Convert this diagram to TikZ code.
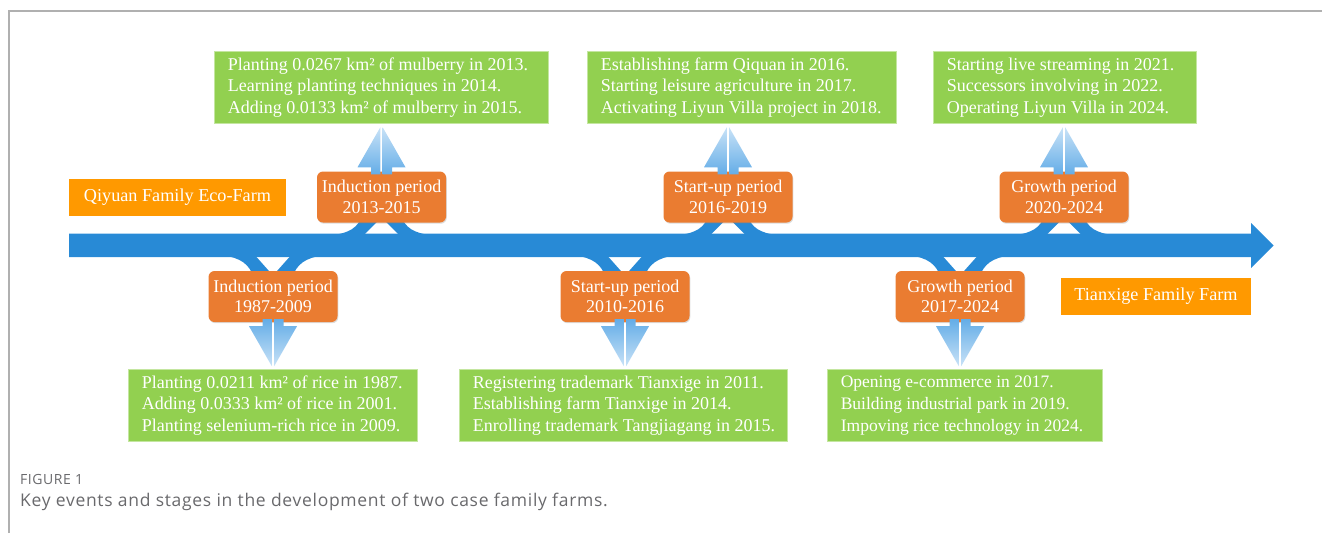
\documentclass[tikz,border=0pt]{standalone}
\usepackage{fontspec}
\setmainfont{Liberation Serif}
\newfontfamily\capfont[LetterSpace=4]{Open Sans}
\usetikzlibrary{shadows}

\definecolor{barblue}{RGB}{40,138,214}
\definecolor{periodorange}{RGB}{234,124,49}
\definecolor{farmorange}{RGB}{255,153,0}
\definecolor{leafgreen}{RGB}{146,208,80}
\definecolor{leafedge}{RGB}{196,230,160}
\definecolor{arrowdeep}{RGB}{100,173,231}
\definecolor{arrowpale}{RGB}{200,226,247}
\definecolor{framegray}{RGB}{176,176,176}
\definecolor{captiongray}{RGB}{105,105,108}

\tikzset{
  eventbox/.style={draw=leafedge, line width=0.8pt, fill=leafgreen,
    inner sep=0pt, minimum height=72pt},
  eventtext/.style={anchor=west, text=white, align=left, inner xsep=14pt,
    inner ysep=0pt, font=\fontsize{18}{21.8}\selectfont},
  periodbox/.style={fill=periodorange, text=white, rounded corners=6pt,
    align=center, minimum width=129pt, minimum height=51pt, inner sep=0pt,
    font=\fontsize{18}{20.5}\selectfont,
    drop shadow={opacity=0.28, shadow xshift=0.8pt, shadow yshift=-1.2pt}},
  farmbox/.style={fill=farmorange, text=white, inner sep=0pt,
    minimum height=37pt, font=\fontsize{18.2}{20}\selectfont},
  % split light-blue arrow pointing up, origin at the top edge of a period box
  arrowabove/.pic={
    \shade[top color=arrowpale, bottom color=arrowdeep]
      (-1.2,3) -- (-10.5,3) -- (-10.5,-4) -- (-24,-4) -- (-1.2,-44) -- cycle;
    \shade[top color=arrowpale, bottom color=arrowdeep]
      (1.2,3) -- (10.5,3) -- (10.5,-4) -- (24,-4) -- (1.2,-44) -- cycle;
  },
  % split light-blue arrow pointing down, origin at the bottom edge of a period box
  arrowbelow/.pic={
    \shade[top color=arrowdeep, bottom color=arrowpale]
      (-1.2,-3) -- (-10.5,-3) -- (-10.5,4) -- (-24,4) -- (-1.2,44) -- cycle;
    \shade[top color=arrowdeep, bottom color=arrowpale]
      (1.2,-3) -- (10.5,-3) -- (10.5,4) -- (24,4) -- (1.2,44) -- cycle;
  },
  % two-legged branch rising from the time bar to a period box above it
  forkabove/.pic={
    \fill[barblue] (-58,-10) .. controls (-38,-10) and (-26,-15) .. (-21,-26)
      -- (-2,-26) -- (-18,-10) -- (18,-10) -- (2,-26) -- (21,-26)
      .. controls (26,-15) and (38,-10) .. (58,-10) -- cycle;
  },
  % two-legged branch dropping from the time bar to a period box below it
  forkbelow/.pic={
    \fill[barblue] (-58,10) .. controls (-38,10) and (-26,16) .. (-21,28)
      -- (-2,28) -- (-18,10) -- (18,10) -- (2,28) -- (21,28)
      .. controls (26,16) and (38,10) .. (58,10) -- cycle;
  },
}

\begin{document}
\begin{tikzpicture}[x=1pt, y=-1pt]
\useasboundingbox (0,0) rectangle (1322,533);

% page frame
\draw[framegray, line width=1.4pt] (9,533) -- (9,11) -- (1322,11);

% time bar with arrow head
\coordinate (barmid) at (0,245.3);
\fill[barblue] (69,233.5) -- (1251,233.5) -- (1251,223) -- (1273.5,245.5)
  -- (1251,268) -- (1251,257) -- (69,257) -- cycle;

% farm labels
\node[farmbox, minimum width=217pt] (qiyuan) at (177.5,197.5) {Qiyuan Family Eco-Farm};
\node[farmbox, minimum width=190pt] (tianxige) at (1156,296) {Tianxige Family Farm};

% period boxes: Qiyuan above the bar, Tianxige below
\coordinate (c1) at (273,296.5);
\coordinate (c2) at (381.5,197);
\coordinate (c3) at (625,296.5);
\coordinate (c4) at (728,197);
\coordinate (c5) at (960,296.5);
\coordinate (c6) at (1064,197);

\pic at (c1 |- barmid) {forkbelow};
\pic at (c2 |- barmid) {forkabove};
\pic at (c3 |- barmid) {forkbelow};
\pic at (c4 |- barmid) {forkabove};
\pic at (c5 |- barmid) {forkbelow};
\pic at (c6 |- barmid) {forkabove};

\node[periodbox] (p1) at (c1) {Induction period\\1987-2009};
\node[periodbox] (p2) at (c2) {Induction period\\2013-2015};
\node[periodbox] (p3) at (c3) {Start-up period\\2010-2016};
\node[periodbox] (p4) at (c4) {Start-up period\\2016-2019};
\node[periodbox] (p5) at (c5) {Growth period\\2017-2024};
\node[periodbox] (p6) at (c6) {Growth period\\2020-2024};

% arrows from period boxes to event boxes
\pic at (p1.south) {arrowbelow};
\pic at (p2.north) {arrowabove};
\pic at (p3.south) {arrowbelow};
\pic at (p4.north) {arrowabove};
\pic at (p5.south) {arrowbelow};
\pic at (p6.north) {arrowabove};

% event boxes and their texts
\node[eventbox, minimum width=334pt] (e2) at (381,87.5) {};
\node[eventtext] (e2text) at (e2.west)
  {Planting 0.0267 km² of mulberry in 2013.\\Learning planting techniques in 2014.\\Adding 0.0133 km² of mulberry in 2015.};
\node[eventbox, minimum width=309pt] (e4) at (741.5,87.5) {};
\node[eventtext] (e4text) at (e4.west)
  {Establishing farm Qiquan in 2016.\\Starting leisure agriculture in 2017.\\Activating Liyun Villa project in 2018.};
\node[eventbox, minimum width=263pt] (e6) at (1064.5,87.5) {};
\node[eventtext] (e6text) at (e6.west)
  {Starting live streaming in 2021.\\Successors involving in 2022.\\Operating Liyun Villa in 2024.};
\node[eventbox, minimum width=289pt] (e1) at (272.5,405.5) {};
\node[eventtext] (e1text) at (e1.west)
  {Planting 0.0211 km² of rice in 1987.\\Adding 0.0333 km² of rice in 2001.\\Planting selenium-rich rice in 2009.};
\node[eventbox, minimum width=328pt] (e3) at (623,405.5) {};
\node[eventtext] (e3text) at (e3.west)
  {Registering trademark Tianxige in 2011.\\Establishing farm Tianxige in 2014.\\Enrolling trademark Tangjiagang in 2015.};
\node[eventbox, minimum width=275pt] (e5) at (964.5,405.5) {};
\node[eventtext, font=\fontsize{17.5}{21.8}\selectfont] (e5text) at (e5.west)
  {Opening e-commerce in 2017.\\Building industrial park in 2019.\\Impoving rice technology in 2024.};

% caption
\node[anchor=west, inner sep=0pt, text=captiongray, font=\capfont\fontsize{14}{16}\selectfont]
  (figlabel) at (20,479) {FIGURE 1};
\node[anchor=west, inner sep=0pt, text=captiongray, font=\capfont\fontsize{17.5}{20}\selectfont]
  (figcaption) at (20,502) {Key events and stages in the development of two case family farms.};
\end{tikzpicture}
\end{document}
